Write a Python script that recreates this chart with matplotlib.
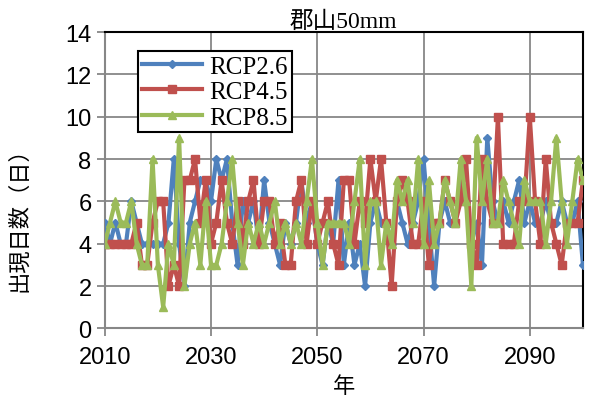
import matplotlib.pyplot as plt

years = list(range(2010, 2101))

rcp26 = [5, 4, 5, 4, 4, 6, 5, 4, 4, 4,
         4, 4, 5, 8, 4, 2, 5, 6, 7, 7,
         6, 8, 7, 8, 5, 3, 6, 5, 6, 4,
         7, 5, 4, 3, 5, 4, 5, 7, 5, 6,
         4, 3, 5, 4, 7, 3, 5, 3, 4, 2,
         5, 6, 5, 5, 4, 6, 5, 4, 5, 6,
         8, 5, 2, 5, 6, 5, 5, 7, 6, 4,
         5, 3, 9, 6, 5, 6, 5, 6, 7, 5,
         6, 5, 5, 6, 5, 5, 6, 5, 5, 6,
         3]

rcp45 = [4, 4, 4, 4, 4, 4, 5, 3, 3, 5,
         6, 6, 2, 3, 2, 7, 7, 8, 5, 7,
         4, 5, 7, 5, 4, 6, 4, 6, 7, 4,
         6, 6, 4, 5, 3, 3, 6, 7, 4, 6,
         4, 5, 6, 4, 3, 7, 7, 4, 6, 5,
         8, 6, 8, 5, 2, 6, 7, 6, 4, 4,
         6, 3, 5, 5, 7, 6, 5, 6, 8, 4,
         3, 8, 6, 5, 10, 4, 4, 4, 6, 6,
         10, 6, 4, 8, 5, 4, 3, 5, 5, 5,
         7]

rcp85 = [4, 5, 6, 5, 5, 6, 4, 3, 3, 8,
         3, 1, 4, 3, 9, 2, 4, 5, 3, 6,
         3, 3, 4, 6, 8, 5, 3, 5, 4, 5,
         4, 5, 6, 4, 5, 4, 5, 4, 6, 8,
         5, 3, 5, 5, 5, 5, 4, 6, 8, 3,
         6, 6, 3, 5, 4, 7, 6, 7, 5, 8,
         4, 7, 4, 5, 7, 6, 5, 8, 6, 2,
         9, 6, 8, 5, 5, 7, 6, 5, 4, 7,
         6, 6, 6, 4, 6, 9, 6, 4, 6, 8,
         7]

serif = ['Liberation Serif', 'Noto Sans CJK JP']
cjk = ['Noto Sans CJK JP', 'DejaVu Sans']

fig = plt.figure(figsize=(5.9, 4.06), dpi=100)
ax = fig.add_axes([0.1775, 0.1887, 0.8105, 0.73])

ax.plot(years, rcp26, color='#4F81BD', lw=3, marker='D', ms=4, label='RCP2.6', zorder=3)
ax.plot(years, rcp45, color='#C0504D', lw=3, marker='s', ms=6, label='RCP4.5', zorder=4)
ax.plot(years, rcp85, color='#9BBB59', lw=3, marker='^', ms=6, label='RCP8.5', zorder=5)

ax.set_xlim(2010, 2100)
ax.set_ylim(0, 14)
ax.set_xticks([2010, 2030, 2050, 2070, 2090])
ax.set_yticks(range(0, 15, 2))
ax.grid(True, color='#878787', lw=1.3)
ax.set_axisbelow(True)

for s in ['top', 'right']:
    ax.spines[s].set_color('black')
    ax.spines[s].set_linewidth(1.5)
for s in ['left', 'bottom']:
    ax.spines[s].set_color('#878787')
    ax.spines[s].set_linewidth(1.5)
ax.tick_params(direction='out', length=6, width=1.3, color='#878787', labelsize=17)
ax.tick_params(axis='x', pad=7)
for lab in ax.get_xticklabels() + ax.get_yticklabels():
    lab.set_family('Liberation Sans')

ax.set_title('郡山50mm', family=serif, fontsize=17, pad=4)
ax.set_xlabel('年', family=cjk, fontsize=16, labelpad=4)
ax.set_ylabel('出現日数（日）', family=cjk, fontsize=16)
ax.yaxis.set_label_coords(-0.155, 0.39)

leg = ax.legend(loc='upper left', bbox_to_anchor=(0.07, 0.935), prop={'family': 'Liberation Serif', 'size': 18},
                fancybox=False, edgecolor='black', framealpha=1, handlelength=2.4,
                handletextpad=0.3, borderpad=0.15, labelspacing=0.12, borderaxespad=0)
leg.get_frame().set_linewidth(1.5)

fig.savefig('out.png', dpi=100)
